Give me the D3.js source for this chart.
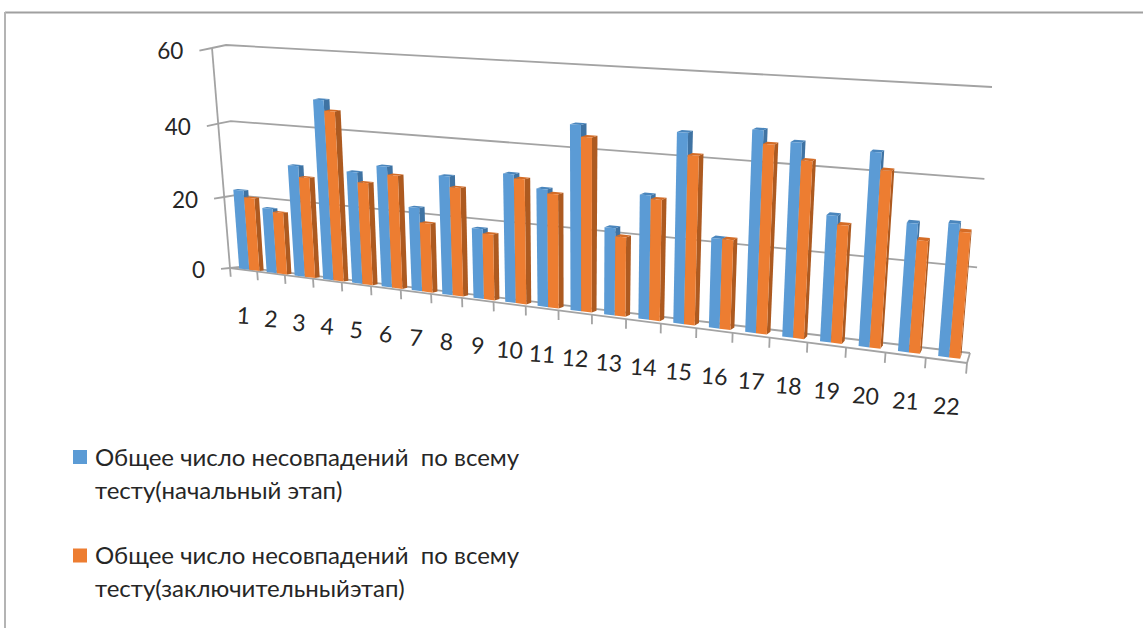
<!DOCTYPE html>
<html lang="ru">
<head>
<meta charset="utf-8">
<script src="https://cdn.jsdelivr.net/npm/d3@7/dist/d3.min.js"></script>
<style>
html,body{margin:0;padding:0;background:#fff}
svg{display:block}
text{font-family:Lato,"Open Sans",sans-serif;fill:#262626}
</style>
</head>
<body>
<svg id="chart" width="1143" height="628"></svg>
<script>
const categories = d3.range(1, 23).map(String);
const valueTicks = [0, 20, 40, 60];
const initialStage = [22,17.8,30.1,48,29.9,32.1,22.1,31,18.3,33,30,46.4,22,30.8,46.4,22,48.2,46,30,45.1,29.9,30.7];
const finalStage   = [20.2,17,27.2,45.3,27.3,30,18.3,28.3,17.2,32,29,43.6,20,30,41.2,22,45.1,42,28,41.2,26.2,29];
const legendEntries = [
  ["Общее число несовпадений  по всему", "тесту(начальный этап)"],
  ["Общее число несовпадений  по всему", "тесту(заключительныйэтап)"]
];

const W = 1143, H = 628;
const svg = d3.select("#chart");

// Projective map of the unit square onto a quadrilateral (p00, p10, p11, p01).
function quadMap(p00, p10, p11, p01) {
  const dx1 = p10[0]-p11[0], dx2 = p01[0]-p11[0], sx = p00[0]-p10[0]+p11[0]-p01[0];
  const dy1 = p10[1]-p11[1], dy2 = p01[1]-p11[1], sy = p00[1]-p10[1]+p11[1]-p01[1];
  const den = dx1*dy2-dx2*dy1;
  const g = (sx*dy2-dx2*sy)/den, h = (dx1*sy-sx*dy1)/den;
  const a = p10[0]-p00[0]+g*p10[0], b = p01[0]-p00[0]+h*p01[0], c = p00[0];
  const d = p10[1]-p00[1]+g*p10[1], e = p01[1]-p00[1]+h*p01[1], f = p00[1];
  return (u, v) => {
    const w = g*u+h*v+1;
    return [(a*u+b*v+c)/w, (d*u+e*v+f)/w];
  };
}

// Category and value scales, normalised before the perspective projection.
const xScale = d3.scaleLinear().domain([0, categories.length]).range([0, 1]);
const yScale = d3.scaleLinear().domain([0, 60]).range([0, 1]);

const frontPlane = quadMap([230,268],[967,363],[990,92],[212,48]);
const backPlane  = quadMap([240,267],[970,353],[992,87],[226,45]);

// 3D point: t along the categories, value up, z from front (0) to back wall (1).
function project(t, value, z) {
  const u = xScale(t), v = yScale(value);
  const f = frontPlane(u, v), b = backPlane(u, v);
  return [f[0]+(b[0]-f[0])*z, f[1]+(b[1]-f[1])*z];
}
const pathOf = pts => "M" + pts.map(p => p[0].toFixed(2)+","+p[1].toFixed(2)).join("L") + "Z";
const segment = (a, b) => `M${a[0]},${a[1]}L${b[0]},${b[1]}`;

const axisColor = "#a3a3a3";
const frame = svg.append("g").attr("fill", "none");
frame.append("path").attr("d", `M${W},12.5H5`).attr("stroke", "#a0a0a0").attr("stroke-width", 2);
frame.append("path").attr("d", `M5,12V${H}`).attr("stroke", "#b4b4b4").attr("stroke-width", 2);

// Walls, gridlines and axes.
const grid = svg.append("g").attr("fill", "none").attr("stroke", axisColor).attr("stroke-width", 1.8);
valueTicks.forEach(v => {
  const a = project(0, v, 0), b = project(0, v, 1), c = project(22, v, 1);
  grid.append("path").attr("d", `M${a[0]},${a[1]}L${b[0]},${b[1]}L${c[0]},${c[1]}`);
  const tick = project(0, v, -0.9);
  grid.append("path").attr("d", segment(tick, a));
});
grid.append("path").attr("d", segment(project(0,0,0), project(0,60,0)));
grid.append("path").attr("d", segment(project(0,0,0), project(22,0,0)));
grid.append("path").attr("d", segment(project(22,0,0), project(22,0,1)));
d3.range(0, 23).forEach(i => {
  grid.append("path").attr("d", segment(project(i,0,0), project(i,-2.5,0)));
});

// Value labels beside the left axis.
svg.append("g").selectAll("text").data(valueTicks).join("text")
  .attr("x", d => project(0, d, -0.9)[0] - 16)
  .attr("y", d => project(0, d, -0.9)[1] + (d === 60 ? 8 : 9))
  .attr("text-anchor", "end")
  .attr("font-size", 22.5)
  .text(d => d);

// Category labels, tilted along the floor.
svg.append("g").selectAll("text").data(categories).join("text")
  .attr("transform", (d, i) => {
    const p = project(i + 0.5, 0, 0);
    return `translate(${p[0]},${p[1] + 46}) rotate(4)`;
  })
  .attr("text-anchor", "middle")
  .attr("dy", "0.35em")
  .attr("font-size", 23)
  .text(d => d);

// Bars: each is a front face, a right side face and a top face.
const padScale = d3.scaleLinear().domain([0, 21]).range([0.22, 0.27]);
const widthScale = d3.scaleLinear().domain([0, 21]).range([0.37, 0.27]);
const zFront = 0.32, zBack = 0.72;
const palettes = [
  {front:"#5b9bd5", side:"#3f73a3", top:"#4a86bd"},
  {front:"#ed7d31", side:"#ad5a20", top:"#d46c26"}
];
const bars = svg.append("g");
categories.forEach((c, i) => {
  [initialStage[i], finalStage[i]].forEach((val, s) => {
    const t0 = i + padScale(i) + s * widthScale(i);
    const t1 = t0 + widthScale(i);
    const g = bars.append("g");
    const pal = palettes[s];
    g.append("path").attr("fill", pal.side).attr("d", pathOf([
      project(t1,0,zFront), project(t1,0,zBack), project(t1,val,zBack), project(t1,val,zFront)]));
    g.append("path").attr("fill", pal.top).attr("d", pathOf([
      project(t0,val,zFront), project(t1,val,zFront), project(t1,val,zBack), project(t0,val,zBack)]));
    g.append("path").attr("fill", pal.front).attr("d", pathOf([
      project(t0,0,zFront), project(t1,0,zFront), project(t1,val,zFront), project(t0,val,zFront)]));
  });
});

// Legend.
const legendTop = [457, 555.5];
const legend = svg.append("g");
legendEntries.forEach((lines, i) => {
  legend.append("rect").attr("x", 73).attr("y", legendTop[i] - 7).attr("width", 14).attr("height", 14)
    .attr("fill", palettes[i].front);
  lines.forEach((line, j) => {
    legend.append("text").attr("x", 95).attr("y", legendTop[i] + 8.5 + j * 33)
      .attr("font-size", 24).style("white-space", "pre").text(line);
  });
});
</script>
</body>
</html>
